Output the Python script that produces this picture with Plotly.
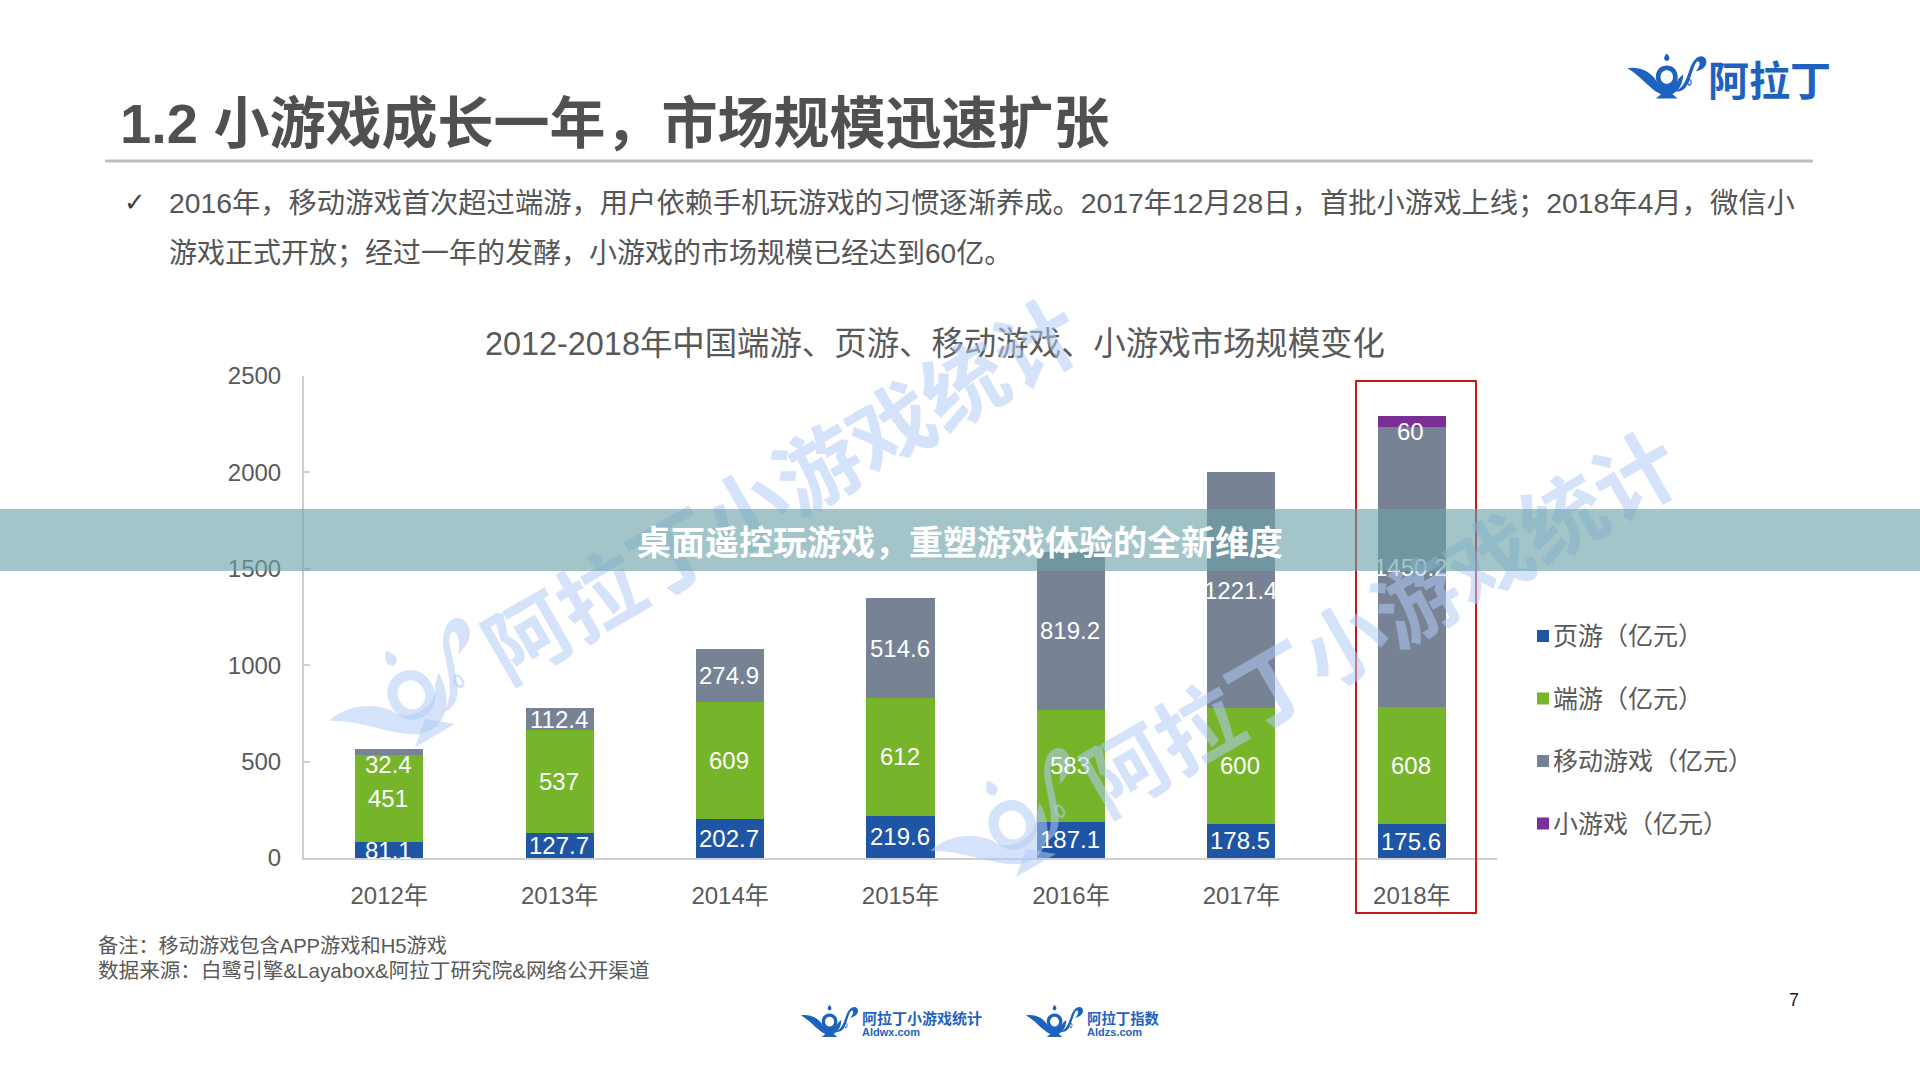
import math
import plotly.graph_objects as go

categories = ["2012年", "2013年", "2014年", "2015年", "2016年", "2017年", "2018年"]
series_names = ["页游（亿元）", "端游（亿元）", "移动游戏（亿元）", "小游戏（亿元）"]
web_games = [81.1, 127.7, 202.7, 219.6, 187.1, 178.5, 175.6]
client_games = [451, 537, 609, 612, 583, 600, 608]
mobile_games = [32.4, 112.4, 274.9, 514.6, 819.2, 1221.4, 1450.2]
mini_games = [None, None, None, None, None, None, 60]
series_colors = ["#1F55A5", "#76B52A", "#778295", "#7B2F96"]
y_ticks = [0, 500, 1000, 1500, 2000, 2500]

page_title = "1.2 小游戏成长一年，市场规模迅速扩张"
body_line1 = "2016年，移动游戏首次超过端游，用户依赖手机玩游戏的习惯逐渐养成。2017年12月28日，首批小游戏上线；2018年4月，微信小"
body_line2 = "游戏正式开放；经过一年的发酵，小游戏的市场规模已经达到60亿。"
chart_title = "2012-2018年中国端游、页游、移动游戏、小游戏市场规模变化"
note1 = "备注：移动游戏包含APP游戏和H5游戏"
note2 = "数据来源：白鹭引擎&Layabox&阿拉丁研究院&网络公开渠道"
band_text = "桌面遥控玩游戏，重塑游戏体验的全新维度"
watermark = "阿拉丁小游戏统计"

W, H = 1920, 1080
FONT = "Liberation Sans, Noto Sans CJK SC, sans-serif"
CJK = "Noto Sans CJK SC, sans-serif"
GREY = "#595959"
LOGO = "#1E62C0"


def px(x):
    return x / W


def py(y):
    return 1 - y / H


fig = go.Figure()
all_series = [web_games, client_games, mobile_games, mini_games]
for name, vals, col in zip(series_names, all_series, series_colors):
    fig.add_trace(go.Bar(x=categories, y=vals, name=name, marker=dict(color=col, line=dict(width=0)),
                         showlegend=False))

fig.update_layout(
    width=W, height=H, margin=dict(l=0, r=0, t=0, b=0), autosize=False,
    paper_bgcolor="white", plot_bgcolor="white", barmode="stack", bargap=0.6,
    font=dict(family=FONT, color=GREY),
    xaxis=dict(domain=[px(304), px(1497)], showgrid=False, showline=True, linecolor="#CFCFCF", linewidth=2,
               ticks="", tickfont=dict(size=24, color=GREY, family=FONT), ticklabelstandoff=15, zeroline=False,
               automargin=False),
    yaxis=dict(domain=[py(858), py(376)], range=[0, 2500], tickvals=y_ticks, showgrid=False, showline=True,
               linecolor="#CFCFCF", linewidth=2, ticks="inside", ticklen=6, tickcolor="#CFCFCF",
               tickwidth=2, tickfont=dict(size=24, color=GREY, family=FONT), ticklabelstandoff=16, zeroline=False,
               automargin=False),
)


def text(x, y, s, size, color=GREY, bold=False, anchor="left", angle=0, family=FONT):
    fig.add_annotation(xref="paper", yref="paper", x=px(x), y=py(y), text=f"<b>{s}</b>" if bold else s,
                       showarrow=False, xanchor=anchor, yanchor="middle", textangle=angle,
                       font=dict(size=size, color=color, family=family))


def line(x0, y0, x1, y1, color, width):
    fig.add_shape(type="line", xref="paper", yref="paper", x0=px(x0), y0=py(y0), x1=px(x1), y1=py(y1),
                  line=dict(color=color, width=width), layer="above")


def logo(x, y, w, h, color, angle=0):
    """Simplified lamp logo. (x, y) is the centre, in page pixels."""
    a = math.radians(angle)

    def p(u, v):
        dx, dy = (u - 0.5) * w, (v - 0.5) * h
        return f"{px(x + dx * math.cos(a) - dy * math.sin(a)):.5f},{py(y + dx * math.sin(a) + dy * math.cos(a)):.5f}"

    wing = (f"M{p(0,0.33)} C{p(0.12,0.28)} {p(0.27,0.36)} {p(0.36,0.56)} C{p(0.40,0.76)} {p(0.62,0.76)} {p(0.66,0.56)} "
            f"L{p(0.72,0.46)} C{p(0.72,0.74)} {p(0.62,0.93)} {p(0.51,0.93)} C{p(0.34,0.93)} {p(0.22,0.54)} {p(0,0.33)} Z")
    drop = f"M{p(0.51,0)} C{p(0.55,0.07)} {p(0.56,0.14)} {p(0.51,0.17)} C{p(0.46,0.14)} {p(0.47,0.07)} {p(0.51,0)} Z"
    ring = (f"M{p(0.37,0.52)} C{p(0.37,0.18)} {p(0.65,0.18)} {p(0.65,0.52)} C{p(0.65,0.86)} {p(0.37,0.86)} {p(0.37,0.52)} Z "
            f"M{p(0.43,0.52)} C{p(0.43,0.72)} {p(0.59,0.72)} {p(0.59,0.52)} C{p(0.59,0.32)} {p(0.43,0.32)} {p(0.43,0.52)} Z")
    base = f"M{p(0.51,0.80)} L{p(0.65,1)} L{p(0.37,1)} Z"
    curl = (f"M{p(0.62,0.84)} C{p(0.74,0.74)} {p(0.76,0.55)} {p(0.81,0.32)} C{p(0.85,0.10)} {p(0.96,-0.02)} {p(1.01,0.12)} "
            f"C{p(1.04,0.26)} {p(0.98,0.36)} {p(0.88,0.40)} C{p(0.93,0.30)} {p(0.95,0.18)} {p(0.91,0.17)} "
            f"C{p(0.87,0.18)} {p(0.85,0.36)} {p(0.81,0.54)} C{p(0.77,0.76)} {p(0.72,0.86)} {p(0.62,0.84)} Z")
    dot = (f"M{p(0.77,0.64)} C{p(0.77,0.54)} {p(0.83,0.54)} {p(0.83,0.64)} C{p(0.83,0.74)} {p(0.77,0.74)} {p(0.77,0.64)} Z "
           f"M{p(0.785,0.64)} C{p(0.785,0.70)} {p(0.815,0.70)} {p(0.815,0.64)} C{p(0.815,0.58)} {p(0.785,0.58)} {p(0.785,0.64)} Z")
    for d in (wing, drop, ring, base, curl, dot):
        fig.add_shape(type="path", xref="paper", yref="paper", path=d, fillcolor=color,
                      line=dict(width=0), layer="above")


# data labels: centred on each stacked segment
label_offsets = {(0, 2): 12, (6, 3): 10}
for s, vals in enumerate(all_series):
    for i, v in enumerate(vals):
        if v is None:
            continue
        base = sum((all_series[k][i] or 0) for k in range(s))
        fig.add_annotation(x=categories[i], y=base + v / 2, xref="x", yref="y", text=f"{v:g}", showarrow=False,
                           yshift=-label_offsets.get((i, s), 0), xshift=-1,
                           font=dict(size=24, color="white", family=FONT))

# page furniture
text(118, 123, page_title, 56, "#505050", bold=True)
line(105, 161, 1813, 161, "#BFBFBF", 3)
text(122, 202, "✓", 26, "#404040", family="DejaVu Sans")
text(167, 203, body_line1, 28.3, "#555555")
text(167, 253, body_line2, 28, "#555555")
text(935, 344, chart_title, 32.4, GREY, anchor="center")

# legend
for i, (name, col) in enumerate(zip(series_names, series_colors)):
    yc = 636 + i * 62.5
    fig.add_shape(type="rect", xref="paper", yref="paper", x0=px(1537), x1=px(1549), y0=py(yc - 6), y1=py(yc + 6),
                  fillcolor=col, line=dict(width=0))
    text(1551, yc, name, 25, GREY)

# highlight box
fig.add_shape(type="rect", xref="paper", yref="paper", x0=px(1356), x1=px(1476), y0=py(913), y1=py(381),
              line=dict(color="#C8171D", width=2), layer="above")

text(96, 946, note1, 20.2, GREY)
text(96, 970, note2, 20.6, GREY)
text(1794, 1000, "7", 18, "#222222", anchor="center")

# logos
logo(1666, 76, 78, 45, LOGO)
text(1706, 78, "阿拉丁", 41, LOGO, bold=True, family=CJK)
logo(829, 1021, 56, 32, LOGO)
text(860, 1017, "阿拉丁小游戏统计", 15, LOGO, bold=True, family=CJK)
text(860, 1032, "Aldwx.com", 11, LOGO, bold=True)
logo(1054, 1021, 56, 32, LOGO)
text(1085, 1017, "阿拉丁指数", 14.4, LOGO, bold=True, family=CJK)
text(1085, 1032, "Aldzs.com", 11, LOGO, bold=True)

# watermarks
WM = "rgba(176,203,245,0.55)"
text(780, 486, watermark, 84, WM, bold=True, anchor="center", angle=-30, family=CJK)
text(1378, 618, watermark, 84, WM, bold=True, anchor="center", angle=-30, family=CJK)
logo(409, 694, 165, 98, WM, angle=-30)
logo(1010, 824, 165, 98, WM, angle=-30)

# overlay band, above everything
fig.add_annotation(xref="paper", yref="paper", x=0, y=py(540), xanchor="left", yanchor="middle", text=" ",
                   showarrow=False, width=W, height=62, bgcolor="rgba(108,162,170,0.625)", borderpad=0, borderwidth=0)
text(960, 540, band_text, 34, "#FFFFFF", bold=True, anchor="center", family=CJK)

fig.write_html("out.html", post_script="document.body.style.margin='0';", config={"displayModeBar": False})
